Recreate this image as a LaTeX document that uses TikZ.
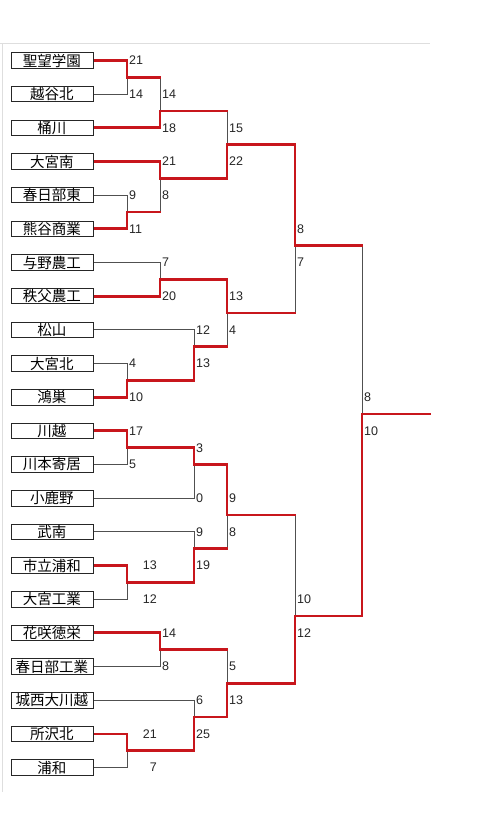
\documentclass[tikz,border=0pt]{standalone}
\usepackage{fontspec}
\setmainfont{Liberation Sans}
\newfontfamily\jpfont{Noto Sans CJK JP}
\definecolor{winred}{RGB}{200,22,28}
\definecolor{losegray}{RGB}{80,80,80}
\definecolor{framegray}{RGB}{222,222,222}
\def\rw#1{60.5+33.67*(#1)}
\begin{document}
\begin{tikzpicture}[x=1pt,y=-1pt,
  team/.style={draw=black!85, line width=0.9pt, fill=white, minimum width=82pt,
    minimum height=15.5pt, inner sep=0pt, font=\jpfont\fontsize{14.5}{15}\selectfont},
  win/.style={draw=winred, line width=2.8pt, line cap=rect, line join=miter},
  lose/.style={draw=losegray, line width=0.8pt},
  frameline/.style={draw=framegray, line width=0.9pt},
  score/.style={anchor=west, inner sep=0pt, font=\fontsize{12.5}{13}\selectfont, text=black!85},
  scoreR/.style={anchor=east, inner sep=0pt, font=\fontsize{12.5}{13}\selectfont, text=black!85}]
\useasboundingbox (0,0) rectangle (480,836);
\fill[white] (0,0) rectangle (480,836);
\draw[frameline] (0,43.5) -- (430,43.5);
\draw[frameline] (2,43.5) -- (2,792);

% team line anchors
\foreach \n [count=\i from 0] in {t0,t1,t2,t3,t4,t5,t6,t7,t8,t9,t10,t11,t12,t13,t14,t15,t16,t17,t18,t19,t20,t21}
  \coordinate (\n) at (93,{\rw{\i}});

% junctions
\coordinate (A) at (127,{\rw{0.5}});
\coordinate (B) at (160,{\rw{1.5}});
\coordinate (C) at (127,{\rw{4.5}});
\coordinate (D) at (160,{\rw{3.5}});
\coordinate (E) at (227,{\rw{2.5}});
\coordinate (F) at (160,{\rw{6.5}});
\coordinate (G) at (127,{\rw{9.5}});
\coordinate (H) at (194,{\rw{8.5}});
\coordinate (I) at (227,{\rw{7.5}});
\coordinate (J) at (295,{\rw{5.5}});
\coordinate (K) at (127,{\rw{11.5}});
\coordinate (L) at (194,{\rw{12}});
\coordinate (M) at (127,{\rw{15.5}});
\coordinate (N) at (194,{\rw{14.5}});
\coordinate (O) at (227,{\rw{13.5}});
\coordinate (P) at (160,{\rw{17.5}});
\coordinate (Q) at (127,{\rw{20.5}});
\coordinate (R) at (194,{\rw{19.5}});
\coordinate (S) at (227,{\rw{18.5}});
\coordinate (T) at (295,{\rw{16.5}});
\coordinate (U) at (362,{\rw{10.5}});
\coordinate (fin) at (430,{\rw{10.5}});

% losing paths
\draw[lose] (t1) -| (A);
\draw[lose] (A -| B) -- (B);
\draw[lose] (t4) -| (C);
\draw[lose] (C -| D) -- (D);
\draw[lose] (B -| E) -- (E);
\draw[lose] (t6) -| (F);
\draw[lose] (t9) -| (G);
\draw[lose] (t8) -| (H);
\draw[lose] (H -| I) -- (I);
\draw[lose] (I -| J) -- (J);
\draw[lose] (t12) -| (K);
\draw[lose] (t13) -| (L);
\draw[lose] (t16) -| (M);
\draw[lose] (t14) -| (N);
\draw[lose] (N -| O) -- (O);
\draw[lose] (t18) -| (P);
\draw[lose] (t21) -| (Q);
\draw[lose] (t19) -| (R);
\draw[lose] (P -| S) -- (S);
\draw[lose] (O -| T) -- (T);
\draw[lose] (J -| U) -- (U);

% winning paths
\draw[win] (t0) -| (A);
\draw[win] (A) -- (A -| B);
\draw[win] (t2) -| (B);
\draw[win] (t5) -| (C);
\draw[win] (t3) -| (D);
\draw[win] (C) -- (C -| D);
\draw[win] (B) -- (B -| E);
\draw[win] (D) -| (E);
\draw[win] (t7) -| (F);
\draw[win] (t10) -| (G);
\draw[win] (G) -| (H);
\draw[win] (F) -| (I);
\draw[win] (H) -- (H -| I);
\draw[win] (E) -| (J);
\draw[win] (I) -- (I -| J);
\draw[win] (t11) -| (K);
\draw[win] (K) -| (L);
\draw[win] (t15) -| (M);
\draw[win] (M) -| (N);
\draw[win] (L) -| (O);
\draw[win] (N) -- (N -| O);
\draw[win] (t17) -| (P);
\draw[win] (t20) -| (Q);
\draw[win] (Q) -| (R);
\draw[win] (R) -| (S);
\draw[win] (P) -- (P -| S);
\draw[win] (S) -| (T);
\draw[win] (O) -- (O -| T);
\draw[win] (T) -| (U);
\draw[win] (J) -- (J -| U);
\draw[win] (U) -- (fin);

% boxes drawn over line ends
\foreach \n/\t [count=\i from 0] in {0/聖望学園,1/越谷北,2/桶川,3/大宮南,4/春日部東,5/熊谷商業,6/与野農工,7/秩父農工,8/松山,9/大宮北,10/鴻巣,11/川越,12/川本寄居,13/小鹿野,14/武南,15/市立浦和,16/大宮工業,17/花咲徳栄,18/春日部工業,19/城西大川越,20/所沢北,21/浦和}
  \node[team] (box\n) at (52,{\rw{\i}}) {\t};

% scores
\node[score] at (129,{\rw{0}}) {21};
\node[score] at (129,{\rw{1}}) {14};
\node[score] at (162,{\rw{1}}) {14};
\node[score] at (162,{\rw{2}}) {18};
\node[score] at (129,{\rw{4}}) {9};
\node[score] at (129,{\rw{5}}) {11};
\node[score] at (162,{\rw{3}}) {21};
\node[score] at (162,{\rw{4}}) {8};
\node[score] at (229,{\rw{2}}) {15};
\node[score] at (229,{\rw{3}}) {22};
\node[score] at (162,{\rw{6}}) {7};
\node[score] at (162,{\rw{7}}) {20};
\node[score] at (129,{\rw{9}}) {4};
\node[score] at (129,{\rw{10}}) {10};
\node[score] at (196,{\rw{8}}) {12};
\node[score] at (196,{\rw{9}}) {13};
\node[score] at (229,{\rw{7}}) {13};
\node[score] at (229,{\rw{8}}) {4};
\node[score] at (297,{\rw{5}}) {8};
\node[score] at (297,{\rw{6}}) {7};
\node[score] at (129,{\rw{11}}) {17};
\node[score] at (129,{\rw{12}}) {5};
\node[score] at (196,{\rw{11.5}}) {3};
\node[score] at (196,{\rw{13}}) {0};
\node[scoreR] at (157,{\rw{15}}) {13};
\node[scoreR] at (157,{\rw{16}}) {12};
\node[score] at (196,{\rw{14}}) {9};
\node[score] at (196,{\rw{15}}) {19};
\node[score] at (229,{\rw{13}}) {9};
\node[score] at (229,{\rw{14}}) {8};
\node[score] at (162,{\rw{17}}) {14};
\node[score] at (162,{\rw{18}}) {8};
\node[scoreR] at (157,{\rw{20}}) {21};
\node[scoreR] at (157,{\rw{21}}) {7};
\node[score] at (196,{\rw{19}}) {6};
\node[score] at (196,{\rw{20}}) {25};
\node[score] at (229,{\rw{18}}) {5};
\node[score] at (229,{\rw{19}}) {13};
\node[score] at (297,{\rw{16}}) {10};
\node[score] at (297,{\rw{17}}) {12};
\node[score] at (364,{\rw{10}}) {8};
\node[score] at (364,{\rw{11}}) {10};
\end{tikzpicture}
\end{document}
